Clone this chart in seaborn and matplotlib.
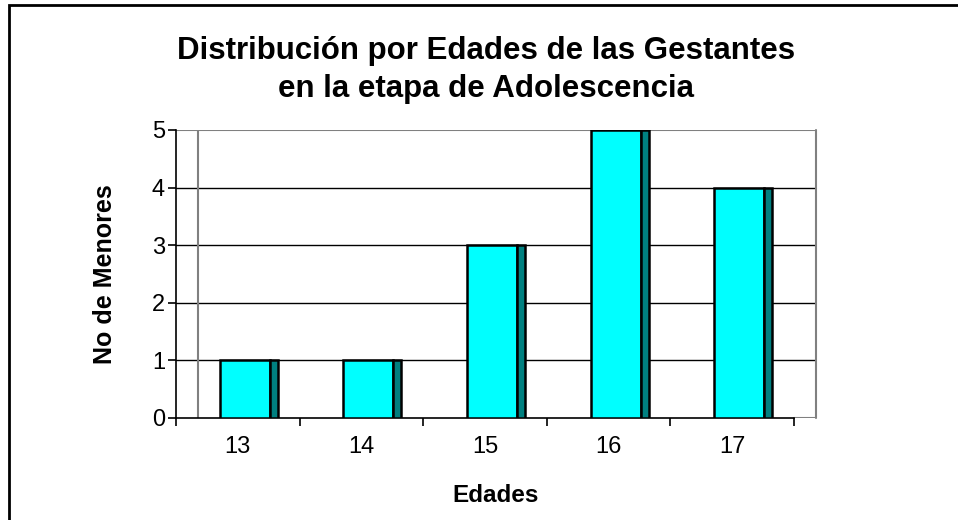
import numpy as np
import matplotlib
matplotlib.use("Agg")
import matplotlib.pyplot as plt
from matplotlib.patches import Rectangle
import seaborn as sns

# data
edades = ["13", "14", "15", "16", "17"]
menores = [1, 1, 3, 5, 4]

title = "Distribución por Edades de las Gestantes\nen la etapa de Adolescencia"
xlabel = "Edades"
ylabel = "No de Menores"

sns.set_style("white")
plt.rcParams["font.family"] = ["Liberation Sans", "DejaVu Sans"]
plt.rcParams["text.color"] = "black"
plt.rcParams["axes.labelcolor"] = "black"

W, H = 958, 520
fig = plt.figure(figsize=(W / 100, H / 100), dpi=100)

# plot area: front axis 176..793 px, back wall to 816 px, y 0 at 418, 5 at 130
ax = fig.add_axes([176 / W, (H - 418) / H, (816 - 176) / W, (418 - 130) / H])
depth = 0.178  # horizontal offset of the back wall, in category units

front_l, front_w, side_w = -0.146, 0.405, 0.065

sns.barplot(x=edades, y=menores, color="#00FFFF", saturation=1, width=front_w,
            edgecolor="black", linewidth=1.8, ax=ax, zorder=3)
for p in ax.patches:
    p.set_x(p.get_x() + p.get_width() / 2 + front_l)

pos = np.arange(len(edades))
ax.bar(pos + front_l + front_w, menores, width=side_w, align="edge",
       color="#008080", edgecolor="black", linewidth=1.8, zorder=3)

ax.set_xlim(-0.5, 4.5 + depth)
ax.set_ylim(0, 5)

# gridlines and back wall
for yv in range(1, 5):
    ax.plot([-0.5, 4.5 + depth], [yv, yv], color="black", lw=1, zorder=1)
ax.plot([-0.5, 4.5 + depth], [5, 5], color="#808080", lw=1.5, zorder=1)
ax.plot([-0.5 + depth, -0.5 + depth], [0, 5], color="#808080", lw=1.5, zorder=1)
ax.plot([4.5, 4.5 + depth], [0, 0], color="#808080", lw=1.5, zorder=1)

for s in ["top", "right"]:
    ax.spines[s].set_visible(False)
ax.plot([4.5 + depth, 4.5 + depth], [0, 5], color="#808080", lw=1.5, zorder=1,
        clip_on=False)
ax.spines["left"].set_color("black")
ax.spines["left"].set_linewidth(1.2)
ax.spines["bottom"].set_color("black")
ax.spines["bottom"].set_linewidth(1.2)
ax.spines["bottom"].set_bounds(-0.5, 4.5)

ax.set_yticks(range(0, 6))
ax.set_xticks(pos)
ax.set_xticks(np.arange(-0.5, 5, 1), minor=True)
ax.tick_params(axis="y", which="major", direction="out", length=6, width=1.2,
               left=True, labelsize=17, pad=2, colors="black")
ax.tick_params(axis="x", which="major", length=0, labelsize=17, pad=13,
               colors="black")
ax.tick_params(axis="x", which="minor", direction="out", length=6, width=1.2,
               bottom=True, colors="black")

ax.set_xlabel(xlabel, fontsize=17.5, fontweight="bold", labelpad=19)
ax.set_ylabel(ylabel, fontsize=18, fontweight="bold", labelpad=25)

fig.text(486 / W, 1 - 70 / H, title, ha="center", va="center", fontsize=22.5,
         fontweight="bold", linespacing=1.33)

# chart border (right and bottom edges fall outside the picture)
fig.patches.append(Rectangle((9 / W, -0.05), 1.2, 1 - 5 / H + 0.05,
                             transform=fig.transFigure, fill=False,
                             edgecolor="black", lw=2))

fig.savefig("out.png", dpi=100)
